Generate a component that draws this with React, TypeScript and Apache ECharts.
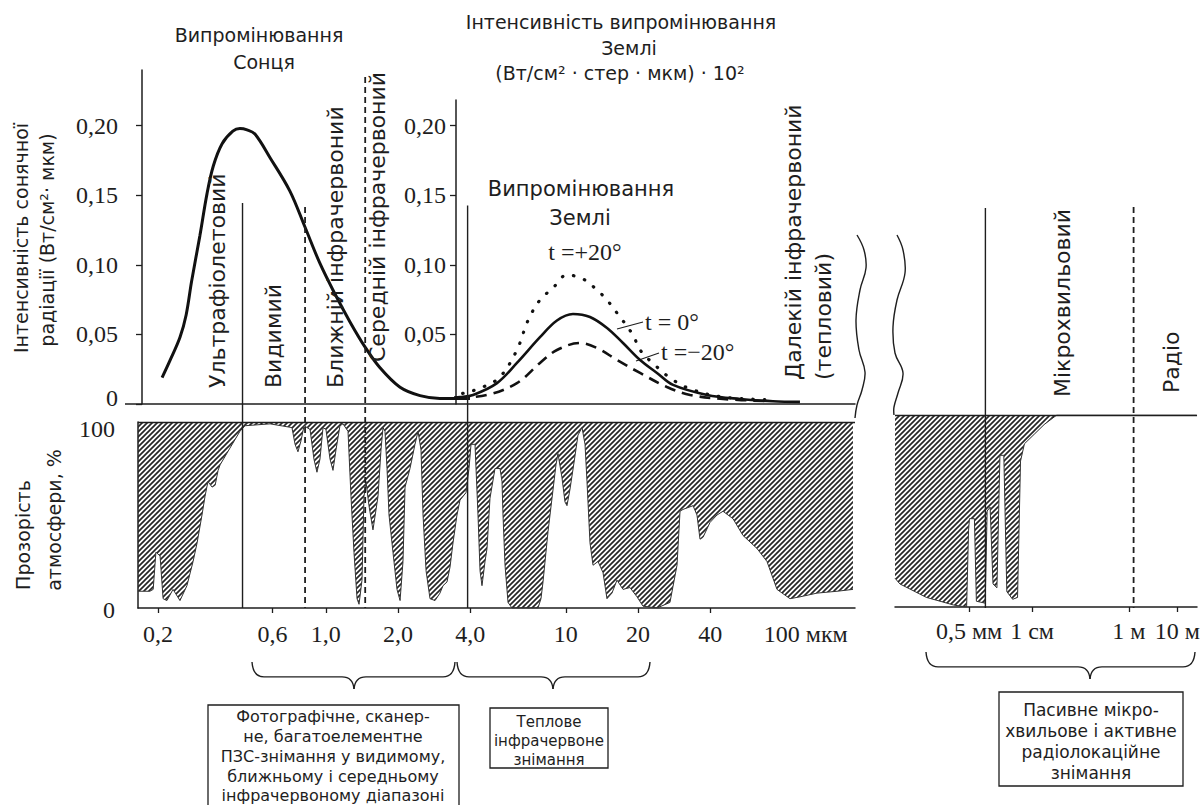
import React, { useEffect, useRef } from 'react';
import * as echarts from 'echarts';

// ---------- DATA ----------
// Solar irradiance curve: wavelength (мкм) -> intensity (Вт/см²·мкм)
const solarWavelength = [0.208, 0.224, 0.247, 0.262, 0.276, 0.299, 0.32, 0.34, 0.37, 0.41, 0.439, 0.47, 0.507, 0.586, 0.709, 0.82, 0.946, 1.093, 1.262, 1.457, 1.683, 2.04, 2.47, 2.99, 3.49, 3.99];
const solarIntensity = [0.019, 0.031, 0.048, 0.064, 0.088, 0.121, 0.151, 0.171, 0.187, 0.196, 0.198, 0.197, 0.194, 0.177, 0.153, 0.127, 0.101, 0.079, 0.059, 0.041, 0.026, 0.012, 0.006, 0.004, 0.004, 0.004];

// Earth emission curves: wavelength (мкм) -> intensity ((Вт/см²·стер·мкм)·10²)
const earthWavelength0 = [2.99, 3.63, 4.11, 5.17, 6.26, 7.81, 9.19, 10.72, 12.62, 14.86, 17.32, 20.4, 24.0, 28.0, 38.8, 53.2, 73.0, 94.6];
const earthT0 = [0.004, 0.005, 0.0065, 0.015, 0.0295, 0.048, 0.06, 0.0647, 0.0625, 0.0546, 0.0438, 0.0316, 0.0223, 0.0137, 0.0065, 0.0036, 0.002, 0.0015];
const earthWavelengthPlus20 = [2.99, 3.8, 4.52, 5.32, 6.26, 6.96, 7.81, 8.85, 10.12, 11.8, 13.5, 14.85, 16.35, 19.06, 20.4, 24.0, 28.0, 33.9, 45.2, 71.0];
const earthTPlus20 = [0.0043, 0.008, 0.0122, 0.0194, 0.0388, 0.06, 0.0747, 0.0834, 0.0927, 0.0898, 0.0819, 0.0747, 0.0654, 0.0496, 0.0388, 0.0266, 0.0172, 0.0101, 0.005, 0.003];
const earthWavelengthMinus20 = [2.99, 4.7, 6.26, 7.81, 9.19, 11.46, 13.5, 16.35, 20.4, 26.4, 33.0, 45.2, 71.0];
const earthTMinus20 = [0.003, 0.0065, 0.015, 0.0295, 0.0388, 0.0438, 0.0402, 0.0316, 0.0223, 0.0122, 0.0065, 0.0036, 0.002];

// Atmospheric transparency, optical / IR part: wavelength (мкм) -> %
const transWavelength = [0.165, 0.185, 0.191, 0.196, 0.204, 0.21, 0.218, 0.231, 0.247, 0.264, 0.28, 0.291, 0.305, 0.314, 0.323, 0.336, 0.346, 0.356, 0.363, 0.399, 0.439, 0.461, 0.586, 0.723, 0.745, 0.766, 0.789, 0.812, 0.86, 0.893, 0.919, 0.946, 0.974, 1.002, 1.042, 1.072, 1.103, 1.146, 1.18, 1.238, 1.274, 1.311, 1.35, 1.376, 1.416, 1.443, 1.471, 1.514, 1.573, 1.651, 1.699, 1.732, 1.765, 1.8, 1.835, 1.906, 1.981, 2.04, 2.098, 2.14, 2.244, 2.354, 2.424, 2.494, 2.543, 2.618, 2.719, 2.853, 2.992, 3.08, 3.2, 3.294, 3.39, 3.522, 3.626, 3.84, 3.952, 4.03, 4.187, 4.309, 4.394, 4.477, 4.609, 4.698, 4.834, 5.073, 5.322, 5.425, 5.477, 5.584, 5.747, 5.97, 7.66, 7.886, 8.04, 8.434, 8.764, 9.106, 9.283, 9.646, 9.927, 10.12, 10.42, 10.82, 11.25, 11.69, 12.03, 12.26, 12.62, 12.99, 13.63, 14.3, 14.85, 15.58, 16.35, 17.32, 18.52, 19.81, 20.98, 24.0, 27.18, 29.08, 29.93, 30.8, 33.92, 35.22, 36.26, 37.32, 39.91, 42.68, 45.21, 49.77, 54.77, 62.64, 68.94, 75.9, 85.98, 94.64, 111.4, 135.0, 157.3];
const transPercent = [9, 9, 10, 30, 28, 5, 4, 10, 4, 12, 25, 35, 50, 60, 68, 65, 66, 74, 77, 86, 95, 98, 99, 97, 88, 84, 90, 98, 96, 80, 73, 80, 97, 96, 80, 74, 85, 98, 99, 95, 60, 30, 5, 2, 15, 60, 68, 55, 42, 60, 85, 97, 95, 75, 50, 30, 10, 4, 25, 65, 75, 88, 95, 85, 50, 20, 5, 4, 8, 12, 14, 22, 35, 50, 58, 62, 75, 88, 88, 50, 20, 12, 25, 32, 59, 75, 75, 68, 50, 23, 3, 0, 0, 5, 14, 41, 59, 77, 83, 70, 57, 55, 64, 78, 93, 97, 88, 68, 35, 23, 25, 19, 5, 8, 15, 10, 11, 6, 1, 0, 3, 23, 52, 53, 55, 50, 37, 38, 46, 50, 52, 48, 39, 32, 25, 10, 5, 6, 8, 9, 10];

// Atmospheric transparency, microwave part: wavelength (мм) -> %
const microWavelengthMm = [0.0148, 0.0187, 0.0658, 0.242, 0.445, 0.488, 0.51, 0.645, 0.708, 1.077, 1.18, 1.36, 1.56, 1.88, 2.17, 2.61, 3.01, 3.97, 5.01, 5.77, 6.95, 11.1, 17.7, 32.4, 25000];
const microPercent = [15, 12, 5, 1, 0, 40, 46, 46, 3, 2, 50, 52, 12, 10, 79, 79, 8, 4, 5, 76, 85, 90, 95, 100, 100];

// Axis ticks
const xTickWavelengths = [0.2, 0.6, 1.0, 2.0, 4.0, 10, 20, 40];
const xLabelWavelengths = [0.2, 0.6, 1.0, 2.0, 4.0, 10, 20, 40, 100];
const xTickLabels = ['0,2', '0,6', '1,0', '2,0', '4,0', '10', '20', '40', '100 мкм'];
const microTickMm = [0.5, 10, 1000, 10000];
const microTickLabels = ['0,5 мм', '1 см', '1 м', '10 м'];
const solarTicks = [0, 0.05, 0.1, 0.15, 0.2];
const earthTicks = [0.05, 0.1, 0.15, 0.2];
const transTicks = [0, 100];

// Spectral band boundaries
const bandBoundaries = [0.45, 0.82, 1.46, 3.9]; // мкм
const microBoundariesMm = [1, 1000]; // мм

// ---------- STYLE / LAYOUT ----------
const INK = '#1e1e1e';
const SANS = '"DejaVu Sans", "Liberation Sans", sans-serif';
const SERIF = '"Liberation Serif", "DejaVu Serif", serif';
const L = Math.log10;
const OV_MIN = -0.1466;
const bandStyle = [
  { top: 0.1444, type: 'solid' },
  { top: 0.1416, type: 'dashed' },
  { top: 0.235, type: 'dashed' },
  { top: 0.1427, type: 'solid' },
];
const microBandStyle = [
  { top: 0.1408, type: 'solid' },
  { top: 0.1416, type: 'dashed' },
];

const hatchSvg = "<svg xmlns='http://www.w3.org/2000/svg' width='5' height='5'><path d='M-1,1 L1,-1 M0,5 L5,0 M4,6 L6,4' stroke='#262626' stroke-width='1.7'/></svg>";
const hatchUrl = 'data:image/svg+xml;charset=utf-8,' + encodeURIComponent(hatchSvg);
const hatchFill = { image: hatchUrl, repeat: 'repeat', imageWidth: 5, imageHeight: 5 };

function nearestLabel(v: number, ws: number[], labels: string[]) {
  let best = 0;
  let d = Infinity;
  ws.forEach((w, i) => {
    const dd = Math.abs(L(w) - v);
    if (dd < d) { d = dd; best = i; }
  });
  return d < 1e-3 ? labels[best] : '';
}

const fmt = (v: number) => (v === 0 ? '{z|0}' : v.toFixed(2).replace('.', ','));

function txt(text: string, x: number, y: number, size: number, o: any = {}) {
  return {
    type: 'text', x, y, rotation: o.rot || 0, silent: true, z: 10,
    style: { text, fill: INK, fontSize: size, fontFamily: o.family || SANS, align: o.align || 'center', verticalAlign: o.va || 'middle' },
  };
}
const stroke = { stroke: INK, lineWidth: 1.4, fill: 'none' };
function seg(x1: number, y1: number, x2: number, y2: number, w = 1.4) {
  return { type: 'line', silent: true, shape: { x1, y1, x2, y2 }, style: { stroke: INK, lineWidth: w } };
}
function brace(x1: number, x2: number, xm: number, y0: number, h: number) {
  const ym = y0 + h * 0.55;
  const r = 12;
  const bz = (ax: number, ay: number, bx: number, by: number, cx: number, cy: number) => ({
    type: 'bezierCurve', silent: true, shape: { x1: ax, y1: ay, x2: bx, y2: by, cpx1: cx, cpy1: cy }, style: stroke,
  });
  return [
    bz(x1, y0, x1 + r, ym, x1 + 1, ym),
    seg(x1 + r, ym, xm - r, ym),
    bz(xm - r, ym, xm, y0 + h, xm - 1, ym),
    bz(xm, y0 + h, xm + r, ym, xm + 1, ym),
    seg(xm + r, ym, x2 - r, ym),
    bz(x2 - r, ym, x2, y0, x2 - 1, ym),
  ];
}
function rect(x: number, y: number, w: number, h: number) {
  return { type: 'rect', silent: true, shape: { x, y, width: w, height: h }, style: { stroke: INK, lineWidth: 1.3, fill: 'none' } };
}

function buildOption() {
  const serifLabel = { fontFamily: SERIF, fontSize: 24, color: INK };
  const axisLine = { show: true, onZero: false, lineStyle: { color: INK, width: 1.5 } };
  const hiddenLine = { show: false, onZero: false };
  const noSplit = { show: false };
  const V = Math.PI / 2;

  const graphic: any[] = [
    // titles
    txt('Випромінювання', 259, 35, 19),
    txt('Сонця', 264, 62, 19),
    txt('Інтенсивність випромінювання', 621, 22, 19),
    txt('Землі', 629, 48, 19),
    txt('(Вт/см² · стер · мкм) · 10²', 620, 73, 19),
    txt('Випромінювання', 581, 189, 21),
    txt('Землі', 580, 218, 21),
    // axis titles
    txt('Інтенсивність сонячної', 21, 238, 19, { rot: V }),
    txt('радіації (Вт/см²· мкм)', 47, 240, 19, { rot: V }),
    txt('Прозорість', 23, 535, 19, { rot: V }),
    txt('атмосфери, %', 54, 520, 19, { rot: V }),
    // band names
    txt('Ультрафіолетовий', 217, 388, 22, { rot: V, align: 'left' }),
    txt('Видимий', 273, 388, 22, { rot: V, align: 'left' }),
    txt('Ближній інфрачервоний', 335, 388, 22, { rot: V, align: 'left' }),
    txt('Середній інфрачервоний', 377, 362, 22, { rot: V, align: 'left' }),
    txt('Далекій інфрачервоний', 793, 380, 22, { rot: V, align: 'left' }),
    txt('(тепловий)', 823, 380, 22, { rot: V, align: 'left' }),
    txt('Мікрохвильовий', 1062, 397, 22, { rot: V, align: 'left' }),
    txt('Радіо', 1171, 393, 22, { rot: V, align: 'left' }),
    // temperature labels
    txt('t =+20°', 585, 252, 24, { family: SERIF }),
    txt('t = 0°', 645, 322, 24, { family: SERIF, align: 'left' }),
    txt('t =−20°', 661, 352, 24, { family: SERIF, align: 'left' }),
    seg(617, 329, 643, 322, 1.2),
    seg(636, 361, 659, 353, 1.2),
    // baseline extension
    seg(125, 404, 142, 404, 1.5),
    // break marks
    { type: 'polyline', silent: true, shape: { points: [[857, 235], [864, 250], [866, 268], [860, 290], [856, 320], [859, 350], [865, 372], [862, 390], [857, 405], [855, 418]], smooth: 0.4 }, style: stroke },
    { type: 'polyline', silent: true, shape: { points: [[897, 235], [903, 250], [905, 273], [897, 300], [893, 327], [895, 353], [903, 373], [898, 393], [894, 407], [894, 415]], smooth: 0.4 }, style: stroke },
    // braces
    ...brace(252, 455, 354, 662, 27),
    ...brace(457, 650, 553, 662, 27),
    ...brace(926, 1195, 1090, 652, 27),
    // boxes
    rect(208, 705, 251, 106),
    txt('Фотографічне, сканер-', 333, 716, 16),
    txt('не, багатоелементне', 333, 736, 16),
    txt('ПЗС-знімання у видимому,', 333, 756, 16),
    txt('ближньому і середньому', 333, 776, 16),
    txt('інфрачервоному діапазоні', 333, 795, 16),
    rect(490, 708, 118, 60),
    txt('Теплове', 549, 722, 15),
    txt('інфрачервоне', 549, 741, 15),
    txt('знімання', 549, 760, 15),
    rect(999, 692, 184, 94),
    txt('Пасивне мікро-', 1091, 710, 17),
    txt('хвильове і активне', 1091, 731, 17),
    txt('радіолокаційне', 1091, 752, 17),
    txt('знімання', 1091, 773, 17),
  ];

  const bandSeries = bandBoundaries.map((w, i) => ({
    type: 'line', xAxisIndex: 4, yAxisIndex: 4, silent: true, showSymbol: false, z: 5,
    data: [[L(w), bandStyle[i].top], [L(w), OV_MIN]],
    lineStyle: { color: INK, width: bandStyle[i].type === 'solid' ? 1.4 : 1.8, type: bandStyle[i].type === 'solid' ? 'solid' : [6, 4] },
  }));
  const microBandSeries = microBoundariesMm.map((w, i) => ({
    type: 'line', xAxisIndex: 5, yAxisIndex: 5, silent: true, showSymbol: false, z: 5,
    data: [[L(w), microBandStyle[i].top], [L(w), OV_MIN]],
    lineStyle: { color: INK, width: microBandStyle[i].type === 'solid' ? 1.4 : 1.8, type: microBandStyle[i].type === 'solid' ? 'solid' : [6, 4] },
  }));

  const topLine = (yv: number) => ({
    silent: true, symbol: 'none', label: { show: false },
    lineStyle: { color: INK, type: 'solid', width: 1.3 },
    data: [{ yAxis: yv }],
  });

  return {
    animation: false,
    backgroundColor: '#ffffff',
    textStyle: { fontFamily: SANS },
    grid: [
      { left: 142, top: 70, width: 713, height: 334 },
      { left: 456, top: 100, width: 399, height: 304 },
      { left: 138, top: 422, width: 717, height: 186 },
      { left: 895, top: 415, width: 308, height: 192 },
      { left: 138, top: 70, width: 717, height: 538 },
      { left: 895, top: 70, width: 308, height: 538 },
    ],
    xAxis: [
      { gridIndex: 0, type: 'value', min: -0.7656, max: 2.2052, axisLine, axisTick: { show: false }, axisLabel: { show: false }, splitLine: noSplit },
      { gridIndex: 1, type: 'value', min: 0.5427, max: 2.2052, show: false, axisLine: hiddenLine, splitLine: noSplit },
      {
        gridIndex: 2, type: 'value', min: -0.7823, max: 2.2052, axisLine,
        axisTick: { show: true, customValues: xTickWavelengths.map(L), length: 5, lineStyle: { color: INK, width: 1.3 } },
        axisLabel: { show: true, customValues: xLabelWavelengths.map(L), margin: 14, formatter: (v: number) => nearestLabel(v, xLabelWavelengths, xTickLabels), ...serifLabel },
        splitLine: noSplit,
      },
      {
        gridIndex: 3, type: 'value', min: -1.83, max: 4.405, axisLine,
        axisTick: { show: true, customValues: microTickMm.map(L), length: 5, lineStyle: { color: INK, width: 1.3 } },
        axisLabel: { show: true, customValues: microTickMm.map(L), margin: 12, formatter: (v: number) => nearestLabel(v, microTickMm, microTickLabels), ...serifLabel },
        splitLine: noSplit,
      },
      { gridIndex: 4, type: 'value', min: -0.7823, max: 2.2052, show: false, axisLine: hiddenLine, splitLine: noSplit },
      { gridIndex: 5, type: 'value', min: -1.83, max: 4.405, show: false, axisLine: hiddenLine, splitLine: noSplit },
    ],
    yAxis: [
      {
        gridIndex: 0, type: 'value', min: 0, max: 0.24, axisLine,
        axisTick: { show: true, customValues: solarTicks, length: 6, lineStyle: { color: INK, width: 1.3 } },
        axisLabel: {
          show: true, customValues: solarTicks, margin: 24, formatter: fmt, ...serifLabel,
          rich: { z: { fontFamily: SERIF, fontSize: 24, color: INK, padding: [0, 0, 12, 0] } },
        },
        splitLine: noSplit,
      },
      {
        gridIndex: 1, type: 'value', min: 0, max: 0.2184, axisLine,
        axisTick: { show: true, customValues: earthTicks, length: 6, lineStyle: { color: INK, width: 1.3 } },
        axisLabel: { show: true, customValues: earthTicks, margin: 10, formatter: fmt, ...serifLabel },
        splitLine: noSplit,
      },
      {
        gridIndex: 2, type: 'value', min: 0, max: 100, axisLine,
        axisTick: { show: false },
        axisLabel: {
          show: true, customValues: transTicks, margin: 23, ...serifLabel,
          formatter: (v: number) => (v === 100 ? '{t|100}' : '{b|0}'),
          rich: {
            t: { fontFamily: SERIF, fontSize: 24, color: INK, padding: [14, 0, 0, 0] },
            b: { fontFamily: SERIF, fontSize: 24, color: INK, padding: [4, 0, 0, 0] },
          },
        },
        splitLine: noSplit,
      },
      { gridIndex: 3, type: 'value', min: 0, max: 100, show: false, axisLine: hiddenLine, splitLine: noSplit },
      { gridIndex: 4, type: 'value', min: OV_MIN, max: 0.24, show: false, axisLine: hiddenLine, splitLine: noSplit },
      { gridIndex: 5, type: 'value', min: OV_MIN, max: 0.24, show: false, axisLine: hiddenLine, splitLine: noSplit },
    ],
    series: [
      {
        name: 'transparency', type: 'line', xAxisIndex: 2, yAxisIndex: 2, silent: true, showSymbol: false,
        data: transWavelength.map((w, i) => [L(w), transPercent[i]]),
        lineStyle: { color: '#333', width: 1 },
        areaStyle: { color: hatchFill, origin: 'end', opacity: 1 },
        markLine: topLine(100),
      },
      {
        name: 'microwave transparency', type: 'line', xAxisIndex: 3, yAxisIndex: 3, silent: true, showSymbol: false,
        data: microWavelengthMm.map((w, i) => [L(w), microPercent[i]]),
        lineStyle: { color: '#333', width: 1 },
        areaStyle: { color: hatchFill, origin: 'end', opacity: 1 },
        markLine: topLine(100),
      },
      {
        name: 'Sun', type: 'line', xAxisIndex: 0, yAxisIndex: 0, silent: true, showSymbol: false, smooth: 0.35,
        data: solarWavelength.map((w, i) => [L(w), solarIntensity[i]]),
        lineStyle: { color: '#111', width: 3 },
      },
      {
        name: 't=0', type: 'line', xAxisIndex: 1, yAxisIndex: 1, silent: true, showSymbol: false, smooth: 0.35, clip: false,
        data: earthWavelength0.map((w, i) => [L(w), earthT0[i]]),
        lineStyle: { color: '#111', width: 2.6 },
      },
      {
        name: 't=+20', type: 'line', xAxisIndex: 1, yAxisIndex: 1, silent: true, showSymbol: false, smooth: 0.35, clip: false,
        data: earthWavelengthPlus20.map((w, i) => [L(w), earthTPlus20[i]]),
        lineStyle: { color: '#111', width: 3.2, type: [0.5, 11], cap: 'round' },
      },
      {
        name: 't=-20', type: 'line', xAxisIndex: 1, yAxisIndex: 1, silent: true, showSymbol: false, smooth: 0.35, clip: false,
        data: earthWavelengthMinus20.map((w, i) => [L(w), earthTMinus20[i]]),
        lineStyle: { color: '#111', width: 2.6, type: [11, 7] },
      },
      ...bandSeries,
      ...microBandSeries,
    ],
    graphic,
  };
}

export default function App() {
  const ref = useRef<HTMLDivElement>(null);
  useEffect(() => {
    const chart = echarts.init(ref.current as HTMLDivElement, null, { renderer: 'svg' });
    chart.setOption(buildOption() as any);
    return () => chart.dispose();
  }, []);
  return (
    <div
      ref={ref}
      style={{ position: 'fixed', left: 0, top: 0, width: 1203, height: 805, background: '#fff' }}
    />
  );
}
